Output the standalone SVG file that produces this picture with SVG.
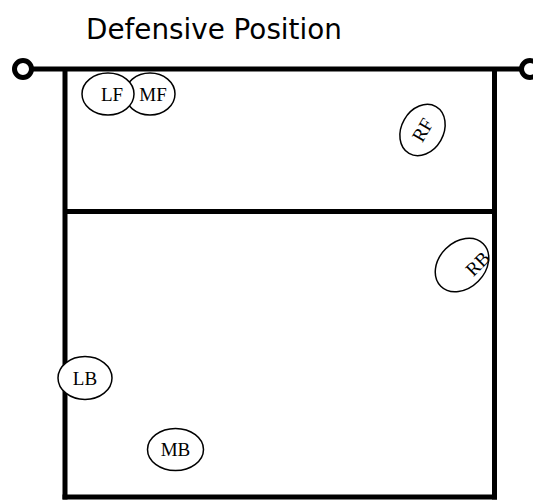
<svg xmlns="http://www.w3.org/2000/svg" width="533" height="501" viewBox="0 0 533 501">
<style>
.line{stroke:#000;stroke-width:5;fill:none}
.post{stroke:#000;stroke-width:5;fill:#fff}
.pl{fill:#fff;stroke:#000;stroke-width:1.5}
.lbl{font-family:"Liberation Serif","Times New Roman",serif;font-size:19px;fill:#000;text-anchor:middle;dominant-baseline:central}
.title{font-family:"DejaVu Sans",Verdana,sans-serif;font-size:27.8px;fill:#000}
</style>
<rect width="533" height="501" fill="#fff"/>
<text class="title" x="86" y="39">Defensive Position</text>
<g id="court">
<line class="line" x1="65" y1="69" x2="65" y2="499.5"/>
<line class="line" x1="494.5" y1="69" x2="494.5" y2="499.5"/>
<line class="line" x1="62.5" y1="497" x2="497" y2="497"/>
<line class="line" x1="65" y1="211.5" x2="494.5" y2="211.5"/>
</g>
<g id="net">
<line class="line" x1="24" y1="69" x2="530" y2="69"/>
<circle class="post" cx="23" cy="69" r="8.5"/>
<circle class="post" cx="530" cy="69" r="8.5"/>
</g>
<g id="connectors"></g>
<g id="MF"><ellipse class="pl" cx="150" cy="94" rx="25" ry="21"/><text class="lbl" x="153" y="94">MF</text></g>
<g id="LF"><ellipse class="pl" cx="108" cy="94" rx="26" ry="21"/><text class="lbl" x="112" y="94">LF</text></g>
<g id="RF" transform="translate(422.5,130) rotate(-60)"><ellipse class="pl" cx="0" cy="0" rx="27" ry="21"/><text class="lbl" x="0" y="0">RF</text></g>
<g id="RB" transform="translate(462,265) rotate(-45)"><ellipse class="pl" cx="0" cy="0" rx="30" ry="23"/><text class="lbl" x="12" y="10">RB</text></g>
<g id="LB"><ellipse class="pl" cx="85" cy="378" rx="27" ry="21.5"/><text class="lbl" x="85" y="378">LB</text></g>
<g id="MB"><ellipse class="pl" cx="175.5" cy="449.5" rx="28" ry="21"/><text class="lbl" x="175.5" y="449.5">MB</text></g>
</svg>
